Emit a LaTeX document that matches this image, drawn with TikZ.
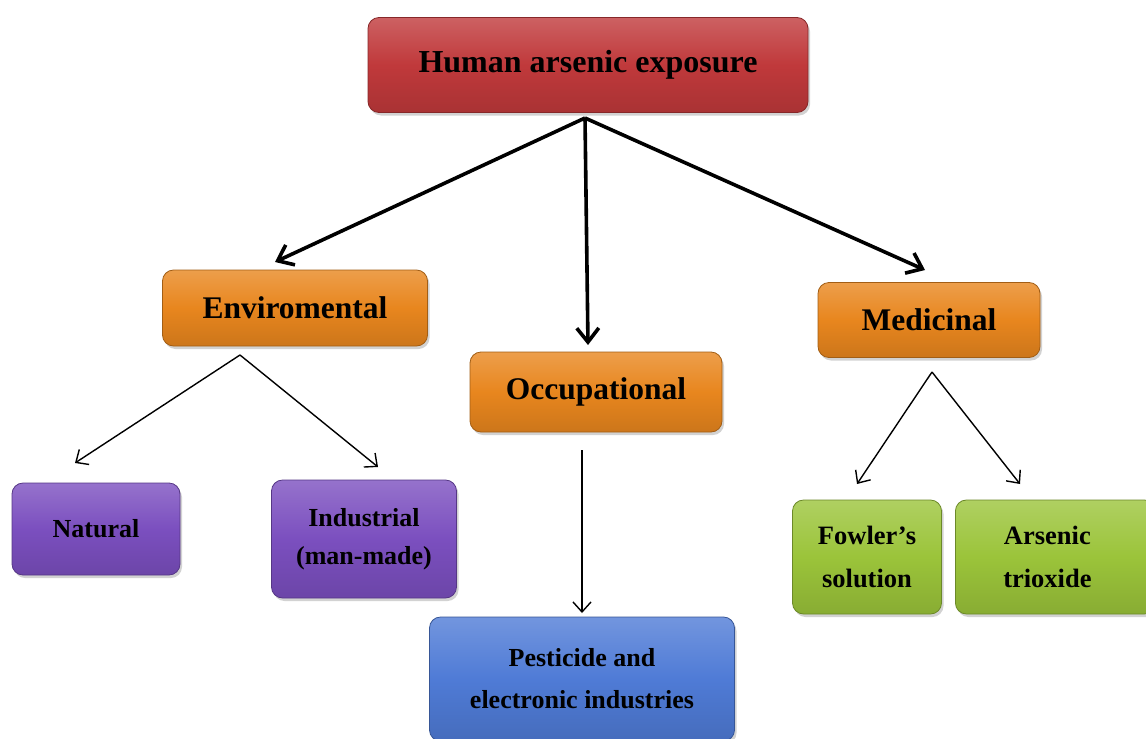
\documentclass[tikz,border=0pt]{standalone}
\usepackage{fontspec}
\setmainfont{Liberation Serif}
\usetikzlibrary{shadows,arrows.meta}
\definecolor{cred}{HTML}{C0393B}
\definecolor{corange}{HTML}{E8861E}
\definecolor{cpurple}{HTML}{7B4FBF}
\definecolor{cblue}{HTML}{4F7BD6}
\definecolor{cgreen}{HTML}{9BC43A}
\tikzset{
  box/.style={draw=#1!70!black, line width=0.8pt, rounded corners=11pt, align=center,
    top color=#1!80!white, bottom color=#1!88!black, middle color=#1,
    drop shadow={shadow xshift=2pt,shadow yshift=-3pt,fill=black!35},
    font=\bfseries, inner sep=0pt},
  bigarrow/.style={line width=3.6pt, -{Straight Barb[length=14pt,width=22pt,line width=3.6pt]}},
  thinarrow/.style={line width=1.4pt, -{Straight Barb[length=10pt,width=18pt,line width=1.4pt]}}
}
\begin{document}
\begin{tikzpicture}[x=1pt,y=-1pt]
\useasboundingbox (0,0) rectangle (1146,739);
\node[box=cred, minimum width=440pt, minimum height=95pt, font=\bfseries\fontsize{32}{34}\selectfont] (top) at (588,65) {Human arsenic exposure};
\node[box=corange, minimum width=265pt, minimum height=76pt, font=\bfseries\fontsize{31.5}{34}\selectfont] (env) at (295,308) {Enviromental};
\node[box=corange, minimum width=252pt, minimum height=80pt, font=\bfseries\fontsize{31.5}{34}\selectfont] (occ) at (596,392) {Occupational};
\node[box=corange, minimum width=222pt, minimum height=75pt, font=\bfseries\fontsize{31.5}{34}\selectfont] (med) at (929,320) {Medicinal};
\node[box=cpurple, minimum width=168pt, minimum height=92pt, font=\bfseries\fontsize{26}{30}\selectfont] (nat) at (96,529) {Natural};
\node[box=cpurple, minimum width=185pt, minimum height=118pt, font=\bfseries\fontsize{26}{38}\selectfont] (ind) at (364,539) {Industrial\\(man-made)};
\node[box=cblue, minimum width=305pt, minimum height=124pt, font=\bfseries\fontsize{26}{42}\selectfont] (pest) at (582,679) {Pesticide and\\electronic industries};
\node[box=cgreen, minimum width=149pt, minimum height=114pt, font=\bfseries\fontsize{26.5}{43}\selectfont] (fow) at (867,557) {Fowler's\\solution};
\node[box=cgreen, minimum width=200pt, minimum height=114pt, font=\bfseries\fontsize{26.5}{43}\selectfont, anchor=west] (ars) at (955,557) {\hspace*{-8pt}Arsenic\hspace*{8pt}\\\hspace*{-8pt}trioxide\hspace*{8pt}};
\coordinate (s1) at (585,118);
\coordinate (s2) at (240,355);
\coordinate (s3) at (582,450);
\coordinate (s4) at (932,372);
\draw[bigarrow] (s1) -- (275,262) coordinate (e1);
\draw[bigarrow] (s1) -- (588,345) coordinate (e2);
\draw[bigarrow] (s1) -- (925,270) coordinate (e3);
\draw[thinarrow] (s2) -- (75,463) coordinate (e4);
\draw[thinarrow] (s2) -- (378,467) coordinate (e5);
\draw[thinarrow] (s3) -- (582,613) coordinate (e6);
\draw[thinarrow] (s4) -- (857,484) coordinate (e7);
\draw[thinarrow] (s4) -- (1020,484) coordinate (e8);
\end{tikzpicture}
\end{document}
